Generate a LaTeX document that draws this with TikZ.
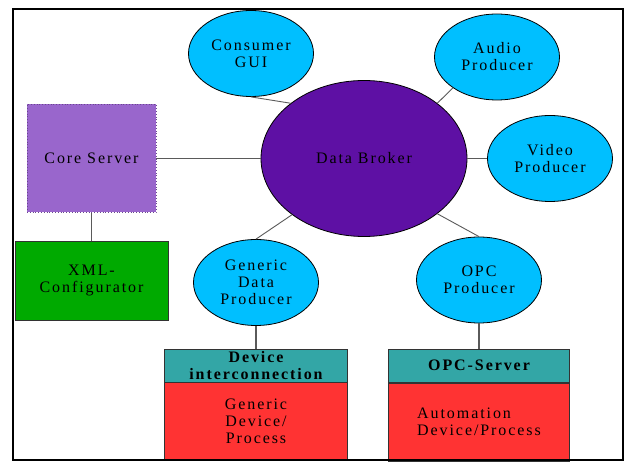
\documentclass[tikz,border=0pt]{standalone}
\usepackage{fontspec}
\setmainfont{Liberation Serif}[LetterSpace=12]
\usetikzlibrary{shapes.geometric}

\definecolor{skyfill}{RGB}{0,191,255}
\definecolor{brokerfill}{RGB}{94,16,164}
\definecolor{corefill}{RGB}{153,102,204}
\definecolor{xmlfill}{RGB}{0,170,0}
\definecolor{headfill}{RGB}{51,166,166}
\definecolor{devfill}{RGB}{255,51,51}
\definecolor{linkgray}{RGB}{90,90,90}

\tikzset{
  txt/.style={font=\fontsize{16pt}{17pt}\selectfont, align=center, text=black},
  bubble/.style={txt, ellipse, draw=black, line width=0.8pt, fill=skyfill,
    minimum width=125pt, minimum height=86pt, inner sep=0pt},
  block/.style={txt, rectangle, draw=black!80, line width=0.8pt, inner sep=0pt},
  link/.style={draw=linkgray, line width=0.9pt},
}

\begin{document}
\begin{tikzpicture}[x=1pt,y=-1pt]
  \useasboundingbox (0,0) rectangle (630,462);
  \fill[white] (0,0) rectangle (630,462);

  % central broker and the producers / consumers around it
  \node[txt, ellipse, draw=black, line width=0.8pt, fill=brokerfill,
        minimum width=206pt, minimum height=156pt, inner sep=0pt]
        (broker) at (364,158.5) {Data Broker};
  \node[bubble] (consumer) at (251,53.5) {Consumer\\GUI};
  \node[bubble] (audio) at (497,57) {Audio\\Producer};
  \node[bubble] (video) at (550,158.5) {Video\\Producer};
  \node[bubble] (gen) at (256,282.5) {Generic\\Data\\Producer};
  \node[bubble] (opc) at (479,280) {OPC\\Producer};

  % server side
  \node[block, draw=corefill!70!black, dotted, fill=corefill,
        minimum width=129pt, minimum height=108pt] (core) at (91.5,158.5) {Core Server};
  \node[block, fill=xmlfill, minimum width=153pt, minimum height=79pt]
        (xml) at (91.5,280.5) {XML-\\Configurator};

  % device stacks
  \node[block, fill=headfill, minimum width=183pt, minimum height=33pt,
        font=\fontsize{16pt}{17pt}\selectfont\bfseries]
        (devhead) at (256,365.5) {Device\\interconnection};
  \node[block, fill=devfill, minimum width=183pt, minimum height=78pt]
        (devbody) at (256,421) {Generic\\Device/\\Process};
  \node[block, fill=headfill, minimum width=181pt, minimum height=33pt,
        font=\fontsize{16pt}{17pt}\selectfont\bfseries]
        (opcsrv) at (479,365.5) {OPC-Server};
  \node[block, fill=devfill, minimum width=181pt, minimum height=78pt, align=left]
        (autobody) at (479,422) {Automation\\Device/Process};

  % connectors
  \draw[link] (core) -- (broker);
  \draw[link, line width=1.4pt] (core) -- (xml);
  \draw[link] (consumer.south) -- (broker.143);
  \draw[link] (audio.215) -- (broker.37);
  \draw[link] (broker) -- (video);
  \draw[link] (gen.north) -- (broker.218);
  \draw[link] (opc.north) -- (broker.323);
  \draw[link, line width=1.2pt] (gen.south) -- (devhead.north);
  \draw[link, line width=1.2pt] (opc.south) -- (opcsrv.north);

  % outer frame
  \draw[black, line width=2.2pt] (13,9) rectangle (623,460);
\end{tikzpicture}
\end{document}
